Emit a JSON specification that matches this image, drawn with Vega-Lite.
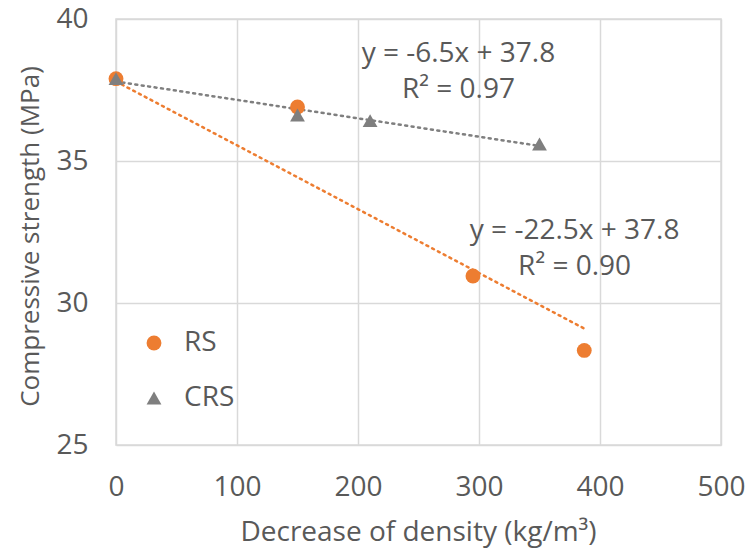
{
  "$schema": "https://vega.github.io/schema/vega-lite/v6.json",
  "width": 605,
  "height": 426,
  "autosize": {"type": "none"},
  "padding": {"left": 116, "top": 19, "right": 29, "bottom": 109},
  "background": "white",
  "config": {
    "font": "Open Sans",
    "view": {"stroke": "#d9d9d9", "strokeWidth": 1.5}
  },
  "datasets": {
    "points": [
      {"series": "RS", "density": 0, "strength": 37.9},
      {"series": "RS", "density": 150, "strength": 36.9},
      {"series": "RS", "density": 295, "strength": 30.95},
      {"series": "RS", "density": 387, "strength": 28.33},
      {"series": "CRS", "density": 0, "strength": 37.9},
      {"series": "CRS", "density": 150, "strength": 36.62},
      {"series": "CRS", "density": 210, "strength": 36.42},
      {"series": "CRS", "density": 350, "strength": 35.6}
    ],
    "trend": [
      {"series": "RS", "density": 0, "strength": 37.8},
      {"series": "RS", "density": 387, "strength": 29.1},
      {"series": "CRS", "density": 0, "strength": 37.8},
      {"series": "CRS", "density": 350, "strength": 35.53}
    ],
    "labels": [
      {"label": "y = -6.5x + 37.8", "density": 283, "strength": 38.78},
      {"label": "R² = 0.97", "density": 283, "strength": 37.51},
      {"label": "y = -22.5x + 37.8", "density": 379, "strength": 32.55},
      {"label": "R² = 0.90", "density": 379, "strength": 31.27}
    ]
  },
  "layer": [
    {
      "data": {"name": "trend"},
      "mark": {"type": "line", "strokeDash": [2, 4.5], "strokeCap": "round", "strokeWidth": 2.5},
      "encoding": {
        "x": {
          "field": "density", "type": "quantitative",
          "scale": {"domain": [0, 500], "nice": false},
          "axis": {
            "title": "Decrease of density (kg/m³)",
            "values": [0, 100, 200, 300, 400, 500],
            "grid": true, "gridColor": "#d9d9d9", "gridWidth": 1.5,
            "domain": false, "ticks": false, "tickSize": 0,
            "labelFontSize": 28, "labelColor": "#595959", "labelPadding": 28,
            "labelFlush": false,
            "titleFontSize": 28, "titleColor": "#595959", "titleFontWeight": "normal",
            "titleX": 302, "titleY": 87, "titleBaseline": "middle"
          }
        },
        "y": {
          "field": "strength", "type": "quantitative",
          "scale": {"domain": [25, 40], "nice": false, "zero": false},
          "axis": {
            "title": "Compressive strength (MPa)",
            "values": [25, 30, 35, 40],
            "grid": true, "gridColor": "#d9d9d9", "gridWidth": 1.5,
            "domain": false, "ticks": false, "tickSize": 0,
            "labelFontSize": 28, "labelColor": "#595959", "labelPadding": 28,
            "labelFlush": false,
            "titleFontSize": 26, "titleColor": "#595959", "titleFontWeight": "normal",
            "titleX": -86, "titleY": 217, "titleBaseline": "middle", "titleAngle": -90
          }
        },
        "stroke": {
          "field": "series", "type": "nominal",
          "scale": {"domain": ["RS", "CRS"], "range": ["#ED7D31", "#7F7F7F"]},
          "legend": null
        }
      }
    },
    {
      "data": {"name": "points"},
      "mark": {"type": "point", "filled": true, "opacity": 1, "size": 220},
      "encoding": {
        "x": {"field": "density", "type": "quantitative"},
        "y": {"field": "strength", "type": "quantitative"},
        "color": {
          "field": "series", "type": "nominal",
          "scale": {"domain": ["RS", "CRS"], "range": ["#ED7D31", "#7F7F7F"]},
          "legend": {
            "title": null, "orient": "none", "legendX": 24, "legendY": 310,
            "padding": 0, "labelFontSize": 28, "labelColor": "#595959",
            "symbolSize": 220, "symbolStrokeWidth": 0, "rowPadding": 27,
            "labelOffset": 16, "symbolOpacity": 1
          }
        },
        "shape": {
          "field": "series", "type": "nominal",
          "scale": {"domain": ["RS", "CRS"], "range": ["circle", "triangle-up"]}
        }
      }
    },
    {
      "data": {"name": "labels"},
      "mark": {"type": "text", "fontSize": 28, "color": "#595959", "align": "center", "baseline": "middle"},
      "encoding": {
        "x": {"field": "density", "type": "quantitative"},
        "y": {"field": "strength", "type": "quantitative"},
        "text": {"field": "label", "type": "nominal"}
      }
    }
  ],
  "resolve": {"scale": {"stroke": "independent"}}
}
